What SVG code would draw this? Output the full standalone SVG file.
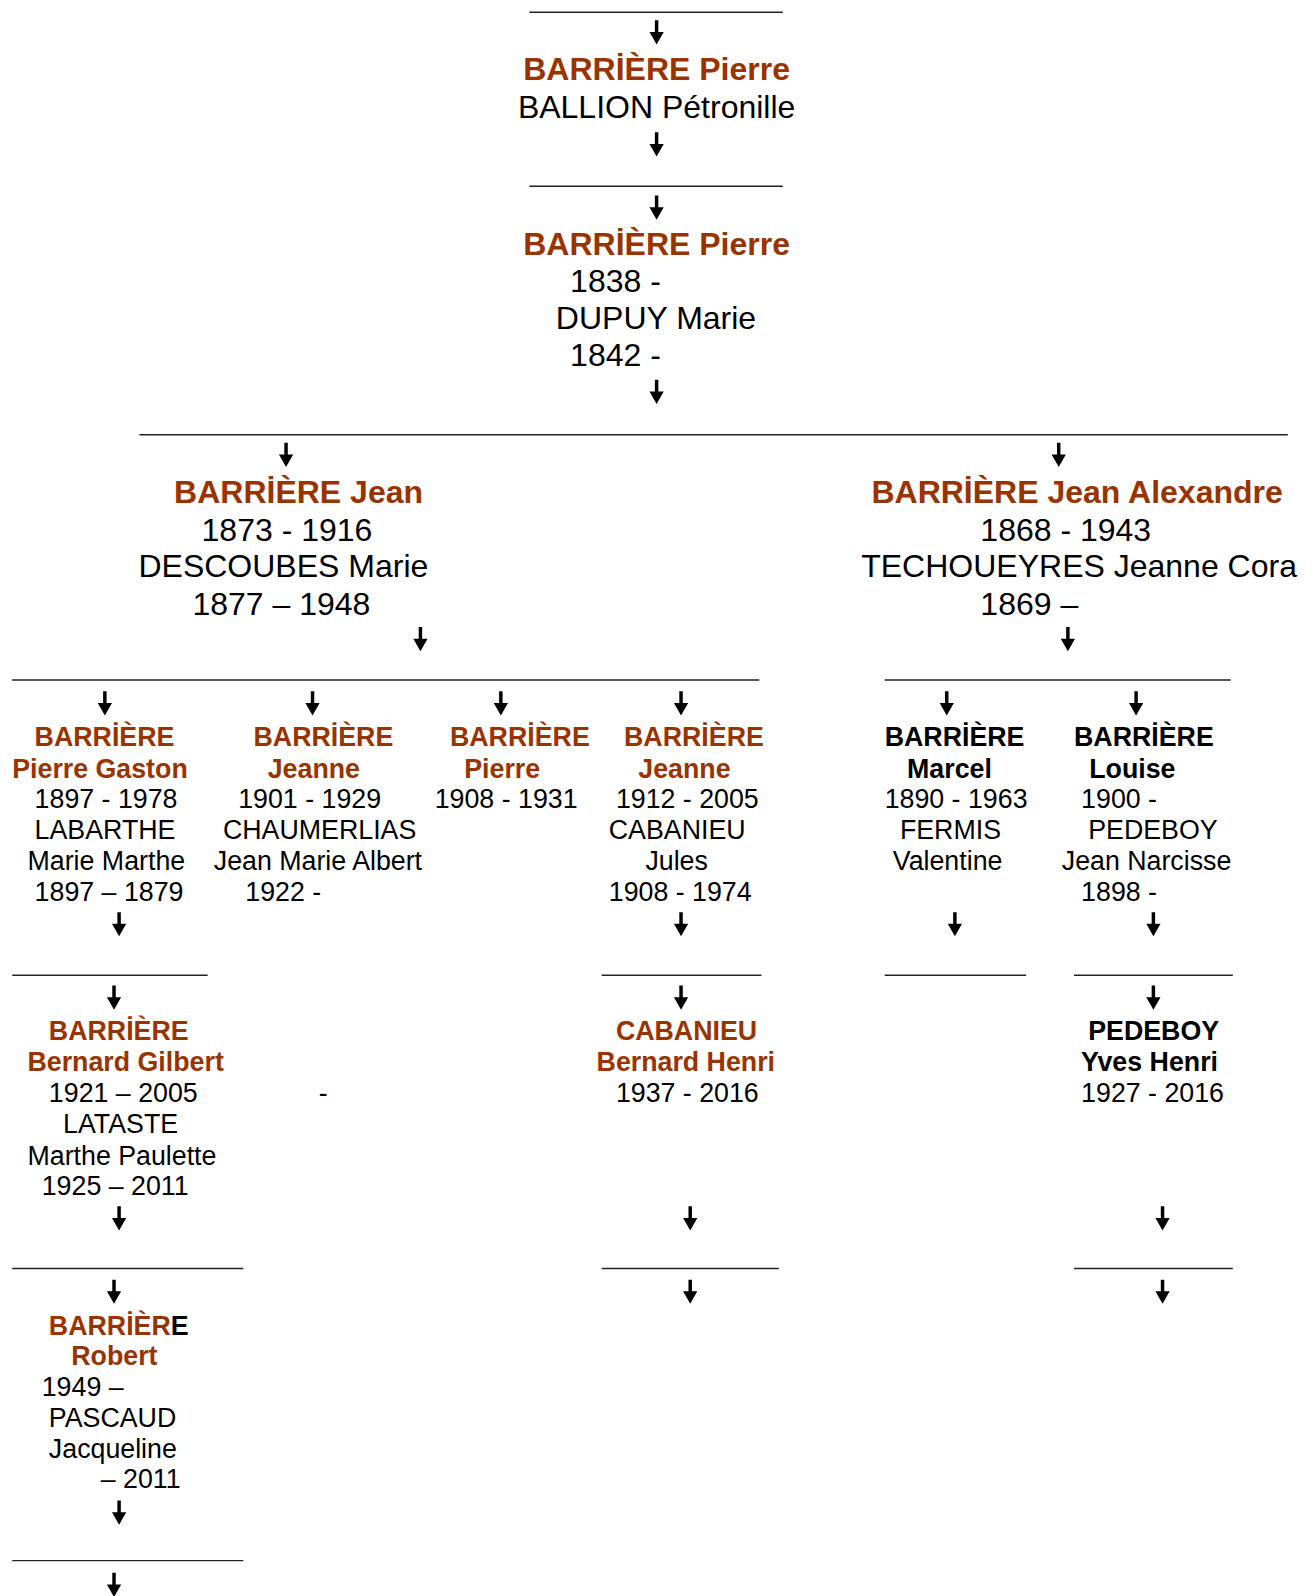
<svg xmlns="http://www.w3.org/2000/svg" xmlns:xlink="http://www.w3.org/1999/xlink" width="1314" height="1596" viewBox="0 0 1314 1596">
<style>
text{font-family:"Liberation Sans",Arial,sans-serif;fill:#000}
.b{font-size:31.45px;font-weight:bold;fill:#993300}
.n{font-size:31.45px}
.sb{font-size:26.3px;font-weight:bold;fill:#993300}
.sk{font-size:26.3px;font-weight:bold;fill:#000}
.s{font-size:26.3px}
.m{text-anchor:middle}
.ln{stroke:#222;stroke-width:1.4}
</style>
<defs>
<path id="a" d="M-1.7,0 h3.4 v11.5 h5.3 l-7,12.3 l-7,-12.3 h5.3 z" fill="#000"/>
</defs>
<rect width="1314" height="1596" fill="#fff"/>
<g transform="scale(1.018)">
<g id="connectors">
<line class="ln" x1="520" y1="12" x2="769" y2="12"/>
<use xlink:href="#a" x="645" y="20"/>
<use xlink:href="#a" x="645" y="130"/>
<line class="ln" x1="520" y1="183" x2="769" y2="183"/>
<use xlink:href="#a" x="645" y="192"/>
<use xlink:href="#a" x="645" y="373"/>
<line class="ln" x1="137" y1="427" x2="1265" y2="427"/>
<use xlink:href="#a" x="281" y="435"/>
<use xlink:href="#a" x="1040" y="435"/>
<use xlink:href="#a" x="413" y="616"/>
<use xlink:href="#a" x="1049" y="616"/>
<line class="ln" x1="12" y1="668" x2="746" y2="668"/>
<line class="ln" x1="869" y1="668" x2="1209" y2="668"/>
<use xlink:href="#a" x="103" y="679"/>
<use xlink:href="#a" x="307" y="679"/>
<use xlink:href="#a" x="492" y="679"/>
<use xlink:href="#a" x="669" y="679"/>
<use xlink:href="#a" x="930" y="679"/>
<use xlink:href="#a" x="1116" y="679"/>
<use xlink:href="#a" x="117" y="896"/>
<use xlink:href="#a" x="669" y="896"/>
<use xlink:href="#a" x="938" y="896"/>
<use xlink:href="#a" x="1133" y="896"/>
<line class="ln" x1="12" y1="958" x2="204" y2="958"/>
<line class="ln" x1="591" y1="958" x2="748" y2="958"/>
<line class="ln" x1="869" y1="958" x2="1008" y2="958"/>
<line class="ln" x1="1055" y1="958" x2="1211" y2="958"/>
<use xlink:href="#a" x="112" y="968"/>
<use xlink:href="#a" x="669" y="968"/>
<use xlink:href="#a" x="1133" y="968"/>
<use xlink:href="#a" x="117" y="1185"/>
<use xlink:href="#a" x="678" y="1185"/>
<use xlink:href="#a" x="1142" y="1185"/>
<line class="ln" x1="12" y1="1246" x2="239" y2="1246"/>
<line class="ln" x1="591" y1="1246" x2="765" y2="1246"/>
<line class="ln" x1="1055" y1="1246" x2="1211" y2="1246"/>
<use xlink:href="#a" x="112" y="1257"/>
<use xlink:href="#a" x="678" y="1257"/>
<use xlink:href="#a" x="1142" y="1257"/>
<use xlink:href="#a" x="117" y="1474"/>
<line class="ln" x1="12" y1="1533" x2="239" y2="1533"/>
<use xlink:href="#a" x="112" y="1545"/>
</g>
<g id="n-pierre1">
<text class="b m" x="645" y="79">BARRİÈRE Pierre</text>
<text class="n m" x="645" y="116">BALLION Pétronille</text>
</g>
<g id="n-pierre2">
<text class="b m" x="645" y="250">BARRİÈRE Pierre</text>
<text class="n" x="560" y="287">1838 -</text>
<text class="n" x="546" y="323">DUPUY Marie</text>
<text class="n" x="560" y="360">1842 -</text>
</g>
<g id="n-jean">
<text class="b" x="171" y="494">BARRİÈRE Jean</text>
<text class="n" x="198" y="531">1873 - 1916</text>
<text class="n" x="136" y="567">DESCOUBES Marie</text>
<text class="n" x="189" y="604">1877 – 1948</text>
</g>
<g id="n-jean-alexandre">
<text class="b" x="856" y="494">BARRİÈRE Jean Alexandre</text>
<text class="n" x="963" y="531">1868 - 1943</text>
<text class="n" x="846" y="567">TECHOUEYRES Jeanne Cora</text>
<text class="n" x="963" y="604">1869 –</text>
</g>
<g id="n-pierre-gaston">
<text class="sb" x="34" y="733">BARRİÈRE</text>
<text class="sb" x="12" y="764">Pierre Gaston</text>
<text class="s" x="34" y="794">1897 - 1978</text>
<text class="s" x="34" y="824">LABARTHE</text>
<text class="s" x="27" y="855">Marie Marthe</text>
<text class="s" x="34" y="885">1897 – 1879</text>
</g>
<g id="n-jeanne1">
<text class="sb" x="249" y="733">BARRİÈRE</text>
<text class="sb" x="263" y="764">Jeanne</text>
<text class="s" x="234" y="794">1901 - 1929</text>
<text class="s" x="219" y="824">CHAUMERLIAS</text>
<text class="s" x="210" y="855">Jean Marie Albert</text>
<text class="s" x="241" y="885">1922 -</text>
</g>
<g id="n-pierre3">
<text class="sb" x="442" y="733">BARRİÈRE</text>
<text class="sb" x="456" y="764">Pierre</text>
<text class="s" x="427" y="794">1908 - 1931</text>
</g>
<g id="n-jeanne2">
<text class="sb" x="613" y="733">BARRİÈRE</text>
<text class="sb" x="627" y="764">Jeanne</text>
<text class="s" x="605" y="794">1912 - 2005</text>
<text class="s" x="598" y="824">CABANIEU</text>
<text class="s" x="634" y="855">Jules</text>
<text class="s" x="598" y="885">1908 - 1974</text>
</g>
<g id="n-marcel">
<text class="sk" x="869" y="733">BARRİÈRE</text>
<text class="sk" x="891" y="764">Marcel</text>
<text class="s" x="869" y="794">1890 - 1963</text>
<text class="s" x="884" y="824">FERMIS</text>
<text class="s" x="877" y="855">Valentine</text>
</g>
<g id="n-louise">
<text class="sk" x="1055" y="733">BARRİÈRE</text>
<text class="sk" x="1070" y="764">Louise</text>
<text class="s" x="1062" y="794">1900 -</text>
<text class="s" x="1069" y="824">PEDEBOY</text>
<text class="s" x="1043" y="855">Jean Narcisse</text>
<text class="s" x="1062" y="885">1898 -</text>
</g>
<g id="n-bernard-gilbert">
<text class="sb" x="48" y="1022">BARRİÈRE</text>
<text class="sb" x="27" y="1052">Bernard Gilbert</text>
<text class="s" x="48" y="1083">1921 – 2005</text>
<text class="s" x="62" y="1113">LATASTE</text>
<text class="s" x="27" y="1144">Marthe Paulette</text>
<text class="s" x="41" y="1174">1925 – 2011</text>
</g>
<g id="n-dash">
<text class="s" x="313" y="1083">-</text>
</g>
<g id="n-bernard-henri">
<text class="sb" x="605" y="1022">CABANIEU</text>
<text class="sb" x="586" y="1052">Bernard Henri</text>
<text class="s" x="605" y="1083">1937 - 2016</text>
</g>
<g id="n-yves-henri">
<text class="sk" x="1069" y="1022">PEDEBOY</text>
<text class="sk" x="1062" y="1052">Yves Henri</text>
<text class="s" x="1062" y="1083">1927 - 2016</text>
</g>
<g id="n-robert">
<text class="sb" x="48" y="1311">BARRİÈR<tspan fill="#000">E</tspan></text>
<text class="sb" x="70" y="1341">Robert</text>
<text class="s" x="41" y="1371">1949 –</text>
<text class="s" x="48" y="1402">PASCAUD</text>
<text class="s" x="48" y="1432">Jacqueline</text>
<text class="s" x="99" y="1462">– 2011</text>
</g>
</g>
</svg>
